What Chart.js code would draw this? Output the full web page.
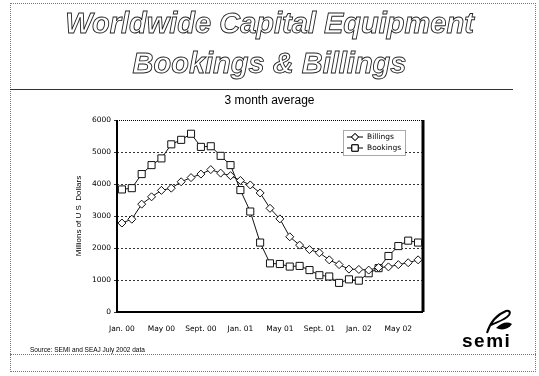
<!DOCTYPE html>
<html>
<head>
<meta charset="utf-8">
<script src="https://cdn.jsdelivr.net/npm/chart.js@4.4.1/dist/chart.umd.min.js"></script>
<style>
  body { margin: 0; width: 539px; height: 376px; background: #fff; position: relative; overflow: hidden;
         font-family: "Liberation Sans", Arial, sans-serif; color: #000; }
  .page { position: absolute; left: 10px; top: 3px; width: 526px; height: 369px; border: 1px dotted #777; box-sizing: border-box; }
  .title { position: absolute; left: 0; top: 0; will-change: transform; opacity: 0.99; -webkit-font-smoothing: antialiased; }
  .title text { font-family: "Liberation Sans", Arial, sans-serif; font-style: italic; font-weight: bold; font-size: 29px;
                fill: #fff; stroke: #222; stroke-width: 0.9px; }
  .rule { position: absolute; left: 10px; top: 89px; width: 503px; border-top: 1px solid #333; }
  .sub { position: absolute; left: 0; top: 93px; width: 539px; text-align: center; font-size: 12px; }
  #chart { position: absolute; left: 0; top: 0; }
  .source { position: absolute; left: 30px; top: 346px; font-size: 6.5px; }
  .footer { position: absolute; left: 10px; top: 354px; width: 526px; height: 18px; border: 1px dotted #777; box-sizing: border-box; }
  .semi { position: absolute; left: 462px; top: 330px; font-size: 19px; font-weight: bold; letter-spacing: 1.5px; }
  .logo { position: absolute; left: 484px; top: 309px; }
</style>
</head>
<body>
<div class="page"></div>
<svg class="title" width="539" height="88">
  <text x="269.5" y="33" text-anchor="middle">Worldwide Capital Equipment</text>
  <text x="269.5" y="73" text-anchor="middle">Bookings &amp; Billings</text>
</svg>
<div class="rule"></div>
<div class="sub">3 month average</div>
<canvas id="chart" width="539" height="376"></canvas>
<div class="source">Source: SEMI and SEAJ July 2002 data</div>
<div class="footer"></div>
<svg class="logo" width="30" height="26" viewBox="0 0 30 26">
  <path d="M3 24 C6 14 12 6 22 2 C25 1 27 3 25 6 C21 11 13 13 7 16" fill="none" stroke="#000" stroke-width="2"/>
  <path d="M12 19 C17 14 23 12 28 15 C25 20 18 22 12 19 Z" fill="#000"/>
</svg>
<div class="semi">semi</div>
<script>
// monthly points, Jan 2000 through Jul 2002
const months = ['Jan 00','Feb 00','Mar 00','Apr 00','May 00','Jun 00','Jul 00','Aug 00','Sep 00','Oct 00','Nov 00','Dec 00',
                'Jan 01','Feb 01','Mar 01','Apr 01','May 01','Jun 01','Jul 01','Aug 01','Sep 01','Oct 01','Nov 01','Dec 01',
                'Jan 02','Feb 02','Mar 02','Apr 02','May 02','Jun 02','Jul 02'];
const tickLabels = ['Jan. 00','May 00','Sept. 00','Jan. 01','May 01','Sept. 01','Jan. 02','May 02'];

const billings = [2780, 2900, 3370, 3600, 3800, 3870, 4070, 4200, 4310, 4450, 4340, 4260,
                  4110, 3970, 3720, 3240, 2910, 2350, 2090, 1950, 1850, 1630, 1480, 1340,
                  1330, 1310, 1390, 1410, 1480, 1540, 1630];
const bookings = [3830, 3870, 4310, 4590, 4800, 5240, 5380, 5570, 5160, 5180, 4880, 4590,
                  3810, 3140, 2170, 1520, 1500, 1420, 1440, 1310, 1150, 1110, 910, 1020,
                  980, 1210, 1370, 1750, 2060, 2230, 2170];

const yMin = 0, yMax = 6000, yStep = 1000;
const tickFont = { family: '"DejaVu Sans", Verdana, sans-serif', size: 7.5 };

// plot frame: heavy left/bottom/right edges, light dotted top
const framePlugin = {
  id: 'frame',
  beforeDatasetsDraw(chart) {
    const { ctx, chartArea: a } = chart;
    ctx.save();
    ctx.strokeStyle = '#000';
    ctx.lineWidth = 2;
    ctx.beginPath();
    ctx.moveTo(a.left, a.top);
    ctx.lineTo(a.left, a.bottom);
    ctx.lineTo(a.right, a.bottom);
    ctx.stroke();
    ctx.lineWidth = 3;
    ctx.beginPath();
    ctx.moveTo(a.right, a.top);
    ctx.lineTo(a.right, a.bottom);
    ctx.stroke();
    ctx.lineWidth = 1;
    ctx.setLineDash([1, 1]);
    ctx.beginPath();
    ctx.moveTo(a.left, a.top + 0.5);
    ctx.lineTo(a.right, a.top + 0.5);
    ctx.stroke();
    ctx.restore();
  }
};

// boxed legend in the upper right corner of the plot
const boxLegend = {
  id: 'boxLegend',
  afterDatasetsDraw(chart) {
    const { ctx, chartArea: a } = chart;
    const x = a.right - 80, y = a.top + 10, w = 62, h = 25;
    ctx.save();
    ctx.fillStyle = '#fff';
    ctx.fillRect(x, y, w, h);
    ctx.strokeStyle = '#555';
    ctx.lineWidth = 1;
    ctx.setLineDash([1, 1]);
    ctx.strokeRect(x + 0.5, y + 0.5, w, h);
    ctx.setLineDash([]);
    ctx.font = '7.5px "DejaVu Sans", Verdana, sans-serif';
    ctx.textBaseline = 'middle';
    chart.data.datasets.forEach((ds, i) => {
      const ry = y + 7 + i * 11;
      ctx.strokeStyle = '#000';
      ctx.beginPath();
      ctx.moveTo(x + 4, ry);
      ctx.lineTo(x + 20, ry);
      ctx.stroke();
      ctx.fillStyle = '#fff';
      Chart.helpers.drawPoint(ctx, {
        pointStyle: ds.pointStyle, radius: ds.pointStyle === 'rect' ? 4.5 : 3.5,
        rotation: 0, borderWidth: 1
      }, x + 12, ry);
      ctx.fill();
      ctx.stroke();
      ctx.fillStyle = '#000';
      ctx.fillText(ds.label, x + 24, ry);
    });
    ctx.restore();
  }
};

new Chart(document.getElementById('chart'), {
  type: 'line',
  data: {
    labels: months,
    datasets: [{
      label: 'Billings',
      data: billings,
      borderColor: '#111',
      borderWidth: 1,
      pointStyle: 'rectRot',
      pointRadius: 4,
      pointBackgroundColor: '#fff',
      pointBorderColor: '#111',
      pointBorderWidth: 1
    }, {
      label: 'Bookings',
      data: bookings,
      borderColor: '#111',
      borderWidth: 1,
      pointStyle: 'rect',
      pointRadius: 5,
      pointBackgroundColor: '#fff',
      pointBorderColor: '#111',
      pointBorderWidth: 1
    }]
  },
  options: {
    responsive: false,
    animation: false,
    layout: { padding: { left: 60, right: 116, top: 120, bottom: 41 } },
    plugins: {
      legend: { display: false },
      tooltip: { enabled: false }
    },
    scales: {
      x: {
        offset: true,
        grid: { display: false },
        border: { display: false },
        afterFit: s => { s.height = 23; },
        ticks: {
          autoSkip: false,
          maxRotation: 0,
          padding: 5,
          color: '#000',
          font: tickFont,
          callback: (v, i) => (i % 4 === 0 ? tickLabels[i / 4] : '')
        }
      },
      y: {
        min: yMin,
        max: yMax,
        afterFit: s => { s.width = 57; },
        grid: {
          color: c => (c.tick && (c.tick.value === yMin || c.tick.value === yMax)) ? 'rgba(0,0,0,0)' : '#333',
          lineWidth: 1,
          drawTicks: true,
          tickLength: 3,
          tickColor: '#333'
        },
        border: { display: false, dash: [2, 2] },
        ticks: { stepSize: yStep, padding: 3, color: '#000', font: tickFont, callback: v => String(v) },
        title: {
          display: true,
          text: 'Millions of U S  Dollars',
          color: '#000',
          font: { family: '"Liberation Sans", Arial, sans-serif', size: 8 },
          padding: { top: 14, bottom: 0 }
        }
      }
    }
  },
  plugins: [framePlugin, boxLegend]
});
</script>
</body>
</html>
